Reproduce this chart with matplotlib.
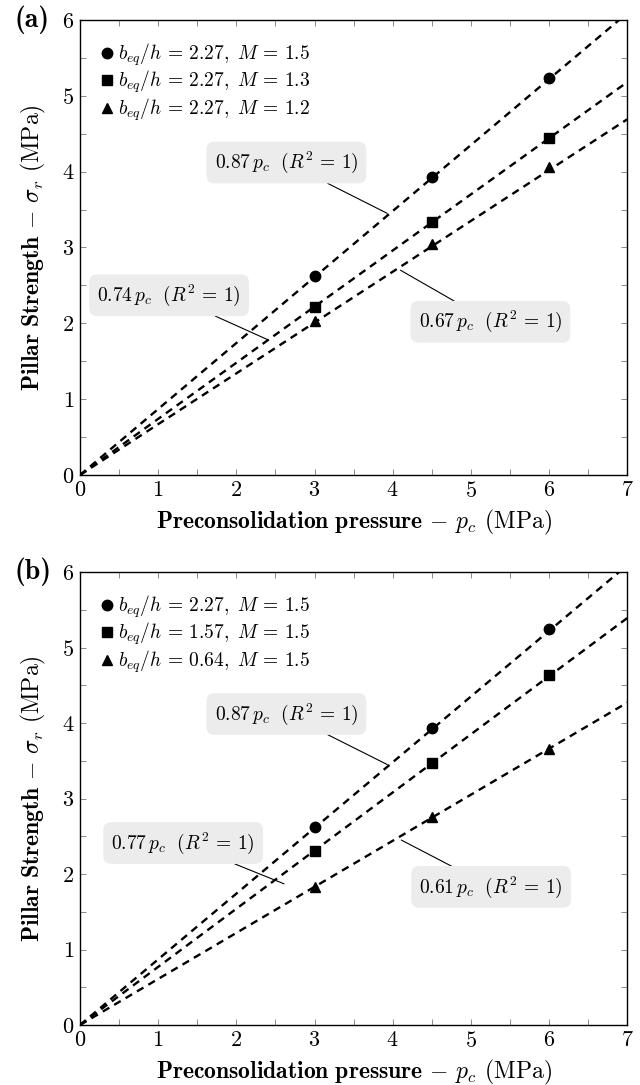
import matplotlib
matplotlib.use("Agg")
from matplotlib import pyplot as plt
from matplotlib.ticker import MultipleLocator
import numpy as np

plt.rcParams["font.family"] = ["cmr10", "DejaVu Serif"]
plt.rcParams["mathtext.fontset"] = "cm"
plt.rcParams["axes.formatter.use_mathtext"] = True

# data
pc = [3.0, 4.5, 6.0]

# panel (a): b_eq/h = 2.27, varying M
a_labels = [r"$b_{eq}/h\, =\, 2.27,\ M\, =\, 1.5$",
            r"$b_{eq}/h\, =\, 2.27,\ M\, =\, 1.3$",
            r"$b_{eq}/h\, =\, 2.27,\ M\, =\, 1.2$"]
a_m15 = [2.62, 3.93, 5.24]
a_m13 = [2.22, 3.33, 4.45]
a_m12 = [2.03, 3.05, 4.06]
a_slopes = [0.87, 0.74, 0.67]

# panel (b): M = 1.5, varying b_eq/h
b_labels = [r"$b_{eq}/h\, =\, 2.27,\ M\, =\, 1.5$",
            r"$b_{eq}/h\, =\, 1.57,\ M\, =\, 1.5$",
            r"$b_{eq}/h\, =\, 0.64,\ M\, =\, 1.5$"]
b_227 = [2.62, 3.93, 5.24]
b_157 = [2.31, 3.47, 4.63]
b_064 = [1.83, 2.75, 3.66]
b_slopes = [0.87, 0.77, 0.61]

markers = ["o", "s", "^"]

# annotation boxes: (text centre, line end) in data units
a_notes = [((2.64, 4.12), (3.93, 3.45)),
           ((1.14, 2.37), (2.41, 1.78)),
           ((5.25, 2.02), (4.10, 2.70))]
b_notes = [((2.64, 4.12), (3.93, 3.45)),
           ((1.32, 2.41), (2.61, 1.87)),
           ((5.26, 1.83), (4.11, 2.45))]


def panel(ax, series, labels, slopes, notes, tag):
    xfit = np.linspace(0, 7, 50)
    for vals, lab, mk, k in zip(series, labels, markers, slopes):
        ax.plot(xfit, k * xfit, color="black", lw=1.7, ls=(0, (3.2, 2.4)),
                zorder=2)
        ax.plot(pc, vals, ls="none", marker=mk, ms=7 if mk != "o" else 7.5,
                color="black", label=lab, zorder=3)

    for (txt_xy, end_xy), k in zip(notes, slopes):
        ax.annotate(r"$%.2f\,p_c\ \ (R^2\, =\, 1)$" % k, xy=end_xy,
                    xytext=txt_xy, ha="center", va="center", fontsize=14,
                    bbox=dict(boxstyle="round,pad=0.42", fc="#ececec",
                              ec="none"),
                    arrowprops=dict(arrowstyle="-", lw=0.8, color="black",
                                    shrinkA=0, shrinkB=0))

    ax.set_xlim(0, 7)
    ax.set_ylim(0, 6)
    ax.xaxis.set_major_locator(MultipleLocator(1))
    ax.xaxis.set_minor_locator(MultipleLocator(0.5))
    ax.yaxis.set_major_locator(MultipleLocator(1))
    ax.yaxis.set_minor_locator(MultipleLocator(0.5))
    ax.tick_params(which="both", direction="in", top=True, right=True,
                   length=4.5, width=0.6, color="#777777", labelsize=16,
                   pad=4)
    for sp in ax.spines.values():
        sp.set_linewidth(1.0)

    ax.set_xlabel(r"$\mathbf{Preconsolidation\ pressure}$ $\mathrm{-}$ $p_c$ (MPa)",
                  fontsize=17, labelpad=5)
    ax.set_ylabel(r"$\mathbf{Pillar\ Strength}$ $\mathrm{-}$ $\sigma_r$ (MPa)",
                  fontsize=17, labelpad=10)

    ax.legend(loc="upper left", frameon=False, fontsize=14,
              handlelength=0.6, handletextpad=0.25, borderaxespad=0.7,
              labelspacing=0.05, numpoints=1)

    ax.text(-0.12, 1.0, tag, transform=ax.transAxes, family=["cmb10"],
            fontsize=20, ha="left", va="center")


fig = plt.figure(figsize=(6.4, 10.85), dpi=100)
ax_a = fig.add_axes([0.125, 0.5622, 0.855, 0.4194])
ax_b = fig.add_axes([0.125, 0.0553, 0.855, 0.4175])

panel(ax_a, [a_m15, a_m13, a_m12], a_labels, a_slopes, a_notes, "(a)")
panel(ax_b, [b_227, b_157, b_064], b_labels, b_slopes, b_notes, "(b)")

fig.savefig("out.png", dpi=100)
